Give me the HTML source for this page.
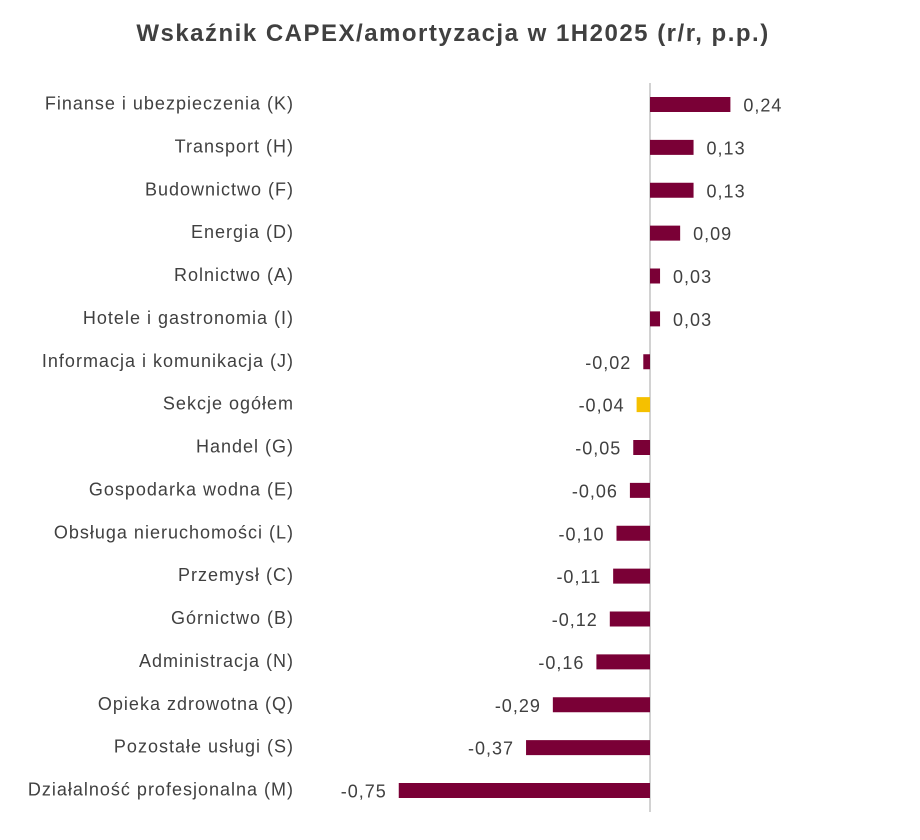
<!DOCTYPE html>
<html><head><meta charset="utf-8"><style>
body{margin:0;background:#fff;}
svg text{font-family:"Liberation Sans",sans-serif;}
</style></head><body>
<svg id="chart" width="920" height="835" xmlns="http://www.w3.org/2000/svg">
<text x="453" y="41" text-anchor="middle" font-size="24" font-weight="bold" letter-spacing="1.5" fill="#404040">Wskaźnik CAPEX/amortyzacja w 1H2025 (r/r, p.p.)</text>
<line x1="650" y1="83" x2="650" y2="812" stroke="#a6a6a6" stroke-width="1"/>
<g id="bars"></g>
</svg>
<script>
const categories=["Finanse i ubezpieczenia (K)","Transport (H)","Budownictwo (F)","Energia (D)","Rolnictwo (A)","Hotele i gastronomia (I)","Informacja i komunikacja (J)","Sekcje ogółem","Handel (G)","Gospodarka wodna (E)","Obsługa nieruchomości (L)","Przemysł (C)","Górnictwo (B)","Administracja (N)","Opieka zdrowotna (Q)","Pozostałe usługi (S)","Działalność profesjonalna (M)"];
const values=[0.24,0.13,0.13,0.09,0.03,0.03,-0.02,-0.04,-0.05,-0.06,-0.10,-0.11,-0.12,-0.16,-0.29,-0.37,-0.75];
const highlight=["Sekcje ogółem"];
const NS="http://www.w3.org/2000/svg";
const x0=650, scale=335;
function xScale(v){return x0+v*scale;}
function yScale(i){return 104.5+i*42.875;}
const g=document.getElementById('bars');
categories.forEach((c,i)=>{
  const v=values[i], y=yScale(i);
  const r=document.createElementNS(NS,'rect');
  
  
  const xa=Math.min(xScale(0),xScale(v)), w=Math.abs(xScale(v)-xScale(0));
  r.setAttribute('x',xa);r.setAttribute('y',y-7.5);r.setAttribute('width',w);r.setAttribute('height',15);
  r.setAttribute('fill',highlight.includes(c)?'#f5c000':'#7a0036');
  g.appendChild(r);
  const t=document.createElementNS(NS,'text');
  
  
  t.setAttribute('x',294);t.setAttribute('y',y+5);t.setAttribute('text-anchor','end');
  t.setAttribute('font-size','18');t.setAttribute('letter-spacing','1');t.setAttribute('fill','#404040');
  t.textContent=c;g.appendChild(t);
  const l=document.createElementNS(NS,'text');
  
  
  const s=v.toFixed(2).replace('.',',');
  if(v>=0){l.setAttribute('x',xScale(v)+13);l.setAttribute('text-anchor','start');}
  else{l.setAttribute('x',xScale(v)-12);l.setAttribute('text-anchor','end');}
  l.setAttribute('y',y+7);l.setAttribute('font-size','18');l.setAttribute('letter-spacing','1');l.setAttribute('fill','#404040');
  l.textContent=s;g.appendChild(l);
});
</script>
</body></html>
